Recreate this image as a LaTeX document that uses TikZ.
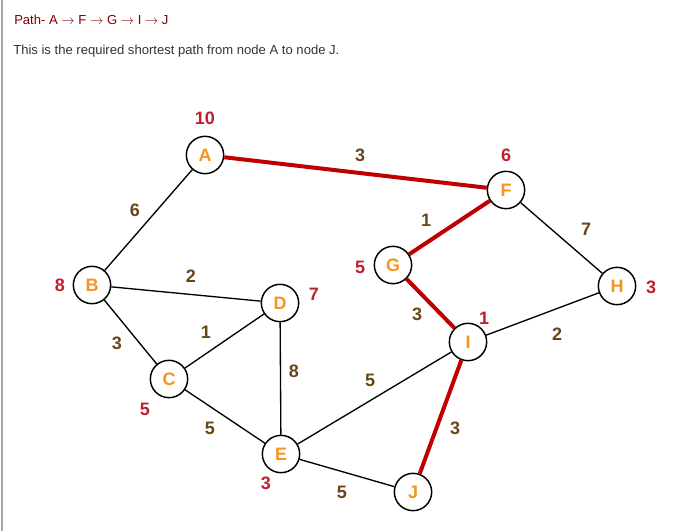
\documentclass[tikz,border=0pt]{standalone}
\usepackage{fontspec}
\setmainfont{Liberation Sans}
\usetikzlibrary{positioning}
\definecolor{pathred}{RGB}{192,0,0}
\definecolor{costred}{RGB}{192,30,45}
\definecolor{wtbrown}{RGB}{105,70,25}
\definecolor{letterorange}{RGB}{247,148,29}
\definecolor{titlered}{RGB}{128,0,0}
\definecolor{bodygray}{RGB}{51,51,51}
\newcommand{\pto}{ \ensuremath{\rightarrow} }
\tikzset{
  vertex/.style={circle, draw=black, line width=1.1pt, fill=white, minimum size=28pt, inner sep=0pt,
    text=letterorange, font=\fontsize{13.5}{15}\selectfont\bfseries},
  cost/.style={text=costred, font=\fontsize{13.5}{15}\selectfont\bfseries, inner sep=0pt},
  weight/.style={text=wtbrown, font=\fontsize{13.5}{15}\selectfont\bfseries, inner sep=0pt},
  edge/.style={draw=black, line width=1pt},
  pathedge/.style={draw=pathred, line width=3pt}
}

\begin{document}
\begin{tikzpicture}[x=0.75pt, y=-0.75pt]
    \useasboundingbox (0,0) rectangle (692,531);
    \draw[draw=gray!70, line width=1.1pt] (2,0) -- (2,531);

    % heading
    \node[anchor=west, inner sep=0pt, text=titlered, font=\fontsize{9.8}{12}\selectfont] (title) at (14,20) {Path- A\pto F\pto G\pto I\pto J};
    \node[anchor=west, inner sep=0pt, text=bodygray, font=\fontsize{9.8}{12}\selectfont] (subtitle) at (13,51) {This is the required shortest path from node A to node J.};

    % vertices
    \node[vertex] (A) at (205,155) {A};
    \node[vertex] (B) at (92,285) {B};
    \node[vertex] (C) at (169,379) {C};
    \node[vertex] (D) at (280,303) {D};
    \node[vertex] (E) at (281,454) {E};
    \node[vertex] (F) at (506,190) {F};
    \node[vertex] (G) at (393,265) {G};
    \node[vertex] (H) at (617,286) {H};
    \node[vertex] (I) at (468,342) {I};
    \node[vertex] (J) at (413,492) {J};

    % edges
    \draw[edge] (A) -- (B);
    \draw[edge] (B) -- (D);
    \draw[edge] (B) -- (C);
    \draw[edge] (C) -- (D);
    \draw[edge] (D) -- (E);
    \draw[edge] (C) -- (E);
    \draw[edge] (E) -- (I);
    \draw[edge] (E) -- (J);
    \draw[edge] (F) -- (H);
    \draw[edge] (H) -- (I);
    \draw[pathedge] (A) -- (F);
    \draw[pathedge] (F) -- (G);
    \draw[pathedge] (G) -- (I);
    \draw[pathedge] (I) -- (J);

    % values at the vertices
    \node[cost] (cA) at (205,118) {10};
    \node[cost] (cB) at (60,285) {8};
    \node[cost] (cC) at (145,409) {5};
    \node[cost] (cD) at (314,294) {7};
    \node[cost] (cE) at (266,483) {3};
    \node[cost] (cF) at (506,155) {6};
    \node[cost] (cG) at (360,267) {5};
    \node[cost] (cH) at (651,287) {3};
    \node[cost] (cI) at (484,318) {1};

    % edge weights
    \node[weight] (wAB) at (135,210) {6};
    \node[weight] (wBD) at (191,276) {2};
    \node[weight] (wBC) at (117,343) {3};
    \node[weight] (wCD) at (206,332) {1};
    \node[weight] (wDE) at (294,371) {8};
    \node[weight] (wCE) at (210,428) {5};
    \node[weight] (wEI) at (370,380) {5};
    \node[weight] (wEJ) at (342,492) {5};
    \node[weight] (wAF) at (360,155) {3};
    \node[weight] (wFG) at (426,220) {1};
    \node[weight] (wFH) at (586,229) {7};
    \node[weight] (wGI) at (417,314) {3};
    \node[weight] (wHI) at (557,334) {2};
    \node[weight] (wIJ) at (455,428) {3};
\end{tikzpicture}
\end{document}
